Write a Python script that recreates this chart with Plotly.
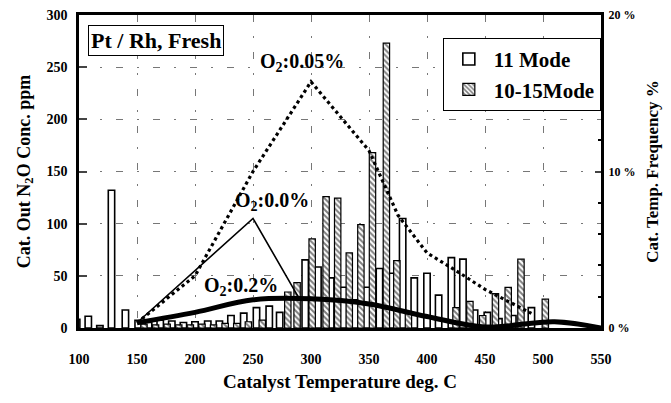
import plotly.graph_objects as go

# ---------------- data ----------------
# 11 Mode frequency bars (catalyst temperature deg C, frequency %)
temps_11 = [98, 108, 118, 128, 140, 151, 160, 170, 180, 190, 200, 211, 221, 231, 242,
            253, 264, 273, 295, 306, 317, 328, 338, 348, 359, 369, 379, 389, 400, 410,
            421, 431, 441, 452, 462, 474, 490]
freq_11 = [0.55, 0.75, 0.15, 8.8, 1.15, 0.5, 0.35, 0.5, 0.45, 0.35, 0.4, 0.45, 0.45, 0.8, 0.95,
           1.3, 1.4, 1.0, 4.35, 3.9, 3.2, 2.6, 1.8, 2.6, 3.8, 3.5, 7.0, 3.2, 3.5, 2.1,
           4.5, 4.4, 1.15, 1.0, 0.6, 0.8, 1.3]

# 10-15 Mode frequency bars
temps_1015 = [156, 166, 176, 186, 196, 206, 216, 226, 236, 246, 258, 280, 288, 301, 313,
              323, 333, 343, 353, 365, 374, 384, 425, 437, 448, 459, 470, 481, 502]
freq_1015 = [0.25, 0.2, 0.25, 0.2, 0.2, 0.25, 0.2, 0.3, 0.3, 0.4, 0.5, 2.3, 2.9, 5.7, 8.4,
             8.3, 4.8, 6.6, 11.2, 18.2, 4.3, 1.0, 1.3, 1.7, 0.8, 2.2, 2.6, 4.4, 1.85]

# N2O concentration curves (ppm)
temps_o2_005 = [150, 200, 250, 300, 350, 375, 400, 425, 450, 490]
n2o_o2_005 = [5, 50, 150, 236, 170, 108, 72, 55, 37, 14]

temps_o2_00 = [150, 250, 290]
n2o_o2_00 = [5, 105, 28]

temps_o2_02 = [150, 200, 250, 300, 350, 400, 450, 510, 550]
n2o_o2_02 = [5, 15, 27, 28, 23, 11, 1, 6, 0]

x_ticks = [100, 150, 200, 250, 300, 350, 400, 450, 500, 550]

# ---------------- figure ----------------
FONT = "Liberation Serif"
fig = go.Figure()

fig.add_trace(go.Bar(
    x=temps_11, y=freq_11, width=5.5, name="11 Mode",
    marker=dict(color="white", line=dict(color="black", width=1.6)),
    yaxis="y",
))
fig.add_trace(go.Bar(
    x=temps_1015, y=freq_1015, width=5.5, name="10-15Mode",
    marker=dict(color="white", line=dict(color="black", width=1.2),
                pattern=dict(shape="\\", fgcolor="black", bgcolor="white",
                             size=4, solidity=0.5)),
    yaxis="y",
))

fig.add_trace(go.Scatter(
    x=temps_o2_005, y=n2o_o2_005, mode="lines", yaxis="y2", showlegend=False,
    line=dict(color="black", width=3.2, dash="dot"),
))
fig.add_trace(go.Scatter(
    x=temps_o2_00, y=n2o_o2_00, mode="lines", yaxis="y2", showlegend=False,
    line=dict(color="black", width=1.6),
))
fig.add_trace(go.Scatter(
    x=temps_o2_02, y=n2o_o2_02, mode="lines", yaxis="y2", showlegend=False,
    line=dict(color="black", width=5, shape="spline"),
))

grid = dict(showgrid=True, gridcolor="#777777", gridwidth=1, griddash="7px,14px,2px,14px")

fig.update_layout(
    width=671, height=403,
    margin=dict(l=79, r=70, t=15, b=75),
    paper_bgcolor="white", plot_bgcolor="white",
    font=dict(family=FONT, color="black", weight="bold"),
    barmode="overlay",
    xaxis=dict(
        range=[100, 550], tickvals=x_ticks, showline=True, linecolor="black",
        linewidth=2.5, mirror=True, zeroline=False, ticks="", automargin=False,
        ticklabelstandoff=16,
        tickfont=dict(size=14, family=FONT, weight="bold"),
        title=dict(text="Catalyst Temperature deg. C", standoff=10,
                   font=dict(size=19, family=FONT, weight="bold")),
        **grid,
    ),
    yaxis=dict(
        range=[0, 20], side="right", anchor="x", showline=True, linecolor="black",
        linewidth=3, dtick=10, ticksuffix=" %", ticks="inside", ticklen=6,
        tickwidth=1.5, showgrid=False, zeroline=False, automargin=False,
        ticklabelstandoff=2,
        minor=dict(ticks="inside", dtick=2, ticklen=3, tickcolor="black"),
        tickfont=dict(size=12, family=FONT, weight="bold"),
        title=dict(text="Cat. Temp. Frequency %", standoff=12,
                   font=dict(size=17, family=FONT, weight="bold")),
    ),
    yaxis2=dict(
        range=[0, 300], side="left", overlaying="y", anchor="x", showline=True,
        linecolor="black", linewidth=2.5, dtick=50, ticks="inside", ticklen=8,
        tickwidth=1.5, zeroline=False, automargin=False, ticklabelstandoff=6,
        tickfont=dict(size=14, family=FONT, weight="bold"),
        title=dict(text="Cat. Out N<sub>2</sub>O Conc. ppm", standoff=12,
                   font=dict(size=18, family=FONT, weight="bold")),
        **grid,
    ),
    legend=dict(
        x=0.697, y=0.927, xanchor="left", yanchor="top",
        bgcolor="white", bordercolor="black", borderwidth=1,
        font=dict(size=21, family=FONT, weight="bold"),
        itemwidth=40, tracegroupgap=0,
    ),
)

ann_font = dict(size=20, family=FONT, weight="bold", color="black")
fig.add_annotation(x=0.017, y=0.968, xref="paper", yref="paper", xanchor="left",
                   yanchor="top", text="Pt / Rh, Fresh", showarrow=False,
                   bordercolor="black", borderwidth=1, borderpad=2, bgcolor="white",
                   font=dict(size=22, family=FONT, weight="bold", color="black"))
fig.add_annotation(x=292, y=254, xref="x", yref="y2", text="O<sub>2</sub>:0.05%",
                   showarrow=False, font=ann_font)
fig.add_annotation(x=266, y=121, xref="x", yref="y2", text="O<sub>2</sub>:0.0%",
                   showarrow=False, font=ann_font)
fig.add_annotation(x=240, y=40, xref="x", yref="y2", text="O<sub>2</sub>:0.2%",
                   showarrow=False, font=ann_font)

fig.write_html("out.html", config={"displayModeBar": False},
               post_script="document.body.style.margin='0';")
